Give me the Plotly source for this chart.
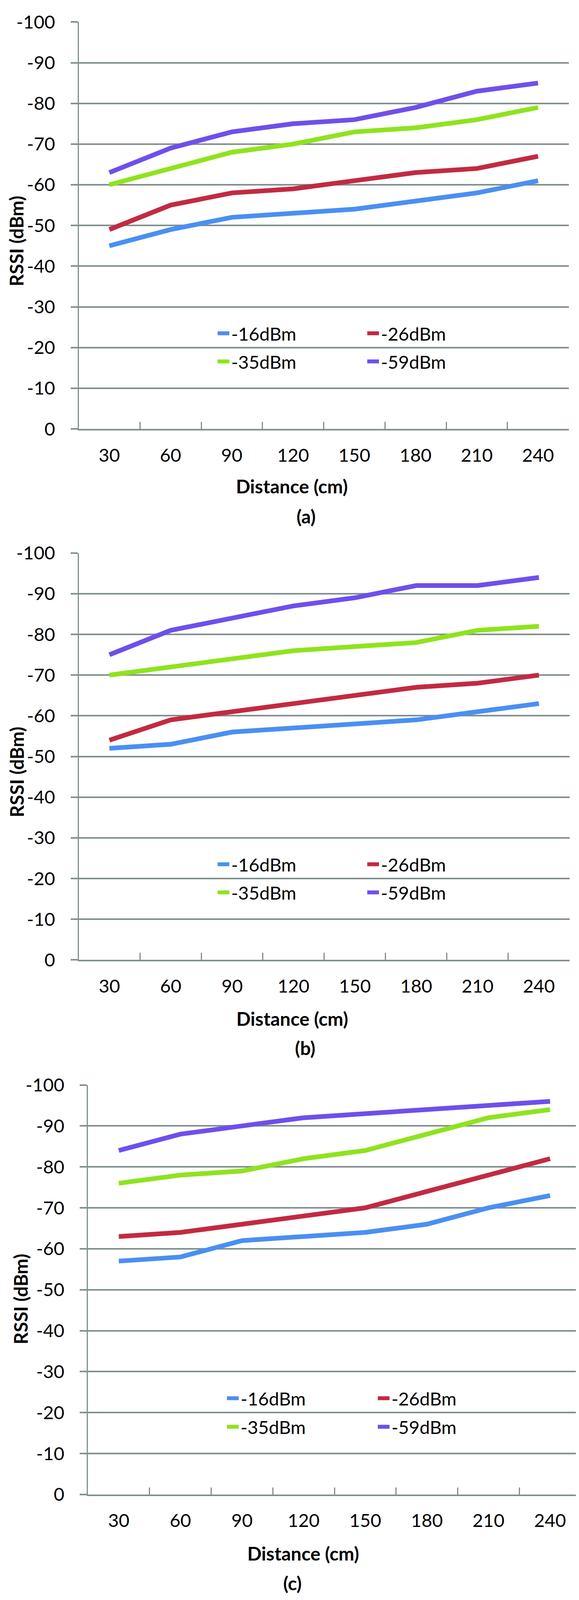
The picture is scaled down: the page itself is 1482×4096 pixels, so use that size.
import plotly.graph_objects as go

# ---------------- data ----------------
distance = ["30", "60", "90", "120", "150", "180", "210", "240"]
series_names = ["-16dBm", "-26dBm", "-35dBm", "-59dBm"]

panel_a_16 = [-45, -49, -52, -53, -54, -56, -58, -61]
panel_a_26 = [-49, -55, -58, -59, -61, -63, -64, -67]
panel_a_35 = [-60, -64, -68, -70, -73, -74, -76, -79]
panel_a_59 = [-63, -69, -73, -75, -76, -79, -83, -85]

panel_b_16 = [-52, -53, -56, -57, -58, -59, -61, -63]
panel_b_26 = [-54, -59, -61, -63, -65, -67, -68, -70]
panel_b_35 = [-70, -72, -74, -76, -77, -78, -81, -82]
panel_b_59 = [-75, -81, -84, -87, -89, -92, -92, -94]

panel_c_16 = [-57, -58, -62, -63, -64, -66, -70, -73]
panel_c_26 = [-63, -64, -66, -68, -70, -74, -78, -82]
panel_c_35 = [-76, -78, -79, -82, -84, -88, -92, -94]
panel_c_59 = [-84, -88, -90, -92, -93, -94, -95, -96]

y_tick_values = [-100, -90, -80, -70, -60, -50, -40, -30, -20, -10, 0]
y_tick_labels = ["-100", "-90", "-80", "-70", "-60", "-50", "-40", "-30", "-20", "-10", "0"]
panel_labels = ["(a)", "(b)", "(c)"]
x_title = "Distance (cm)"
y_title = "RSSI (dBm)"

# ---------------- style / layout ----------------
W, H = 1482, 4096
colors = ["#4a8ff2", "#c22a42", "#8fe31f", "#6f4feb"]
GRAY = "#7f8f8f"
FONT = "Lato"
FS = 47

# plot boxes in pixels: left, right, top, bottom
boxes = [
    (193.5, 1447.5, 18.6, 1074.8),
    (193.5, 1450.0, 1396.8, 2453.0),
    (217.2, 1478.8, 2777.5, 3840.5),
]
xtitle_pos = [(739, 1223.6), (740, 2605), (768, 3992.6)]
plabel_pos = [(775, 1301.3), (773, 2681), (740, 4070.4)]
ytitle_pos = [(34, 587), (34, 1965), (44, 3333)]
legend_rows = [(827, 900), (2205, 2278), (3591, 3665)]
legend_text_x = [(584, 378), (584, 378), (608, 381)]

panels = [
    [panel_a_16, panel_a_26, panel_a_35, panel_a_59],
    [panel_b_16, panel_b_26, panel_b_35, panel_b_59],
    [panel_c_16, panel_c_26, panel_c_35, panel_c_59],
]

fig = go.Figure()

def px_x(v):
    return v / W

def px_y(v):
    return 1 - v / H

for p, series in enumerate(panels):
    xa = "x" if p == 0 else f"x{p+1}"
    ya = "y" if p == 0 else f"y{p+1}"
    leg_top = "legend" if p == 0 else f"legend{2*p+1}"
    leg_bot = f"legend{2*p+2}"
    for s, vals in enumerate(series):
        fig.add_trace(go.Scatter(
            x=distance, y=vals, mode="lines", name=series_names[s],
            line=dict(color=colors[s], width=12),
            xaxis=xa, yaxis=ya,
            legend=leg_top if s < 2 else leg_bot,
            showlegend=True,
        ))

    l, r, t, b = boxes[p]
    xkey = "xaxis" if p == 0 else f"xaxis{p+1}"
    ykey = "yaxis" if p == 0 else f"yaxis{p+1}"
    fig.update_layout(**{
        xkey: dict(
            domain=[px_x(l), px_x(r)], anchor=ya, type="category",
            categoryorder="array", categoryarray=distance,
            range=[-0.5, len(distance) - 0.5],
            tickson="boundaries", ticks="inside", ticklen=18, tickwidth=2.5,
            tickcolor=GRAY, showgrid=False, showline=True, linecolor=GRAY,
            linewidth=4, zeroline=False,
            tickfont=dict(family=FONT, size=FS, color="black"),
            ticklabelstandoff=23, fixedrange=True,
        ),
        ykey: dict(
            domain=[px_y(b), px_y(t)], anchor=xa, range=[0, -100],
            tickmode="array", tickvals=y_tick_values, ticktext=y_tick_labels,
            showgrid=True, gridcolor=GRAY, gridwidth=3.5,
            ticks="outside", ticklen=18, tickwidth=3.5, tickcolor=GRAY,
            showline=True, linecolor=GRAY, linewidth=3, zeroline=False,
            tickfont=dict(family=FONT, size=FS, color="black"),
            ticklabelstandoff=30, fixedrange=True,
        ),
    })

    r1, r2 = legend_rows[p]
    tx, ew = legend_text_x[p]
    for key, yc in ((leg_top, r1), (leg_bot, r2)):
        fig.update_layout(**{key: dict(
            orientation="h", x=px_x(tx - 40), xanchor="left",
            y=px_y(yc), yanchor="middle",
            entrywidth=ew - 40, entrywidthmode="pixels",
            bgcolor="rgba(0,0,0,0)", borderwidth=0,
            font=dict(family=FONT, size=FS, color="black"),
        )})

    ax, ay = xtitle_pos[p]
    fig.add_annotation(text=f"<b>{x_title}</b>", x=px_x(ax), y=px_y(ay),
                       xref="paper", yref="paper", showarrow=False,
                       xanchor="center", yanchor="middle",
                       font=dict(family=FONT, size=FS + 1, color="black"))
    ax, ay = plabel_pos[p]
    fig.add_annotation(text=f"<b>{panel_labels[p]}</b>", x=px_x(ax), y=px_y(ay),
                       xref="paper", yref="paper", showarrow=False,
                       xanchor="center", yanchor="middle",
                       font=dict(family=FONT, size=FS + 1, color="black"))
    ax, ay = ytitle_pos[p]
    fig.add_annotation(text=f"<b>{y_title}</b>", x=px_x(ax), y=px_y(ay),
                       xref="paper", yref="paper", showarrow=False,
                       textangle=-90, xanchor="center", yanchor="middle",
                       font=dict(family=FONT, size=FS + 1, color="black"))

fig.update_layout(
    width=W, height=H, margin=dict(l=0, r=0, t=0, b=0),
    paper_bgcolor="white", plot_bgcolor="white",
    font=dict(family=FONT, size=FS, color="black"),
)

fig.write_html("out.html")
